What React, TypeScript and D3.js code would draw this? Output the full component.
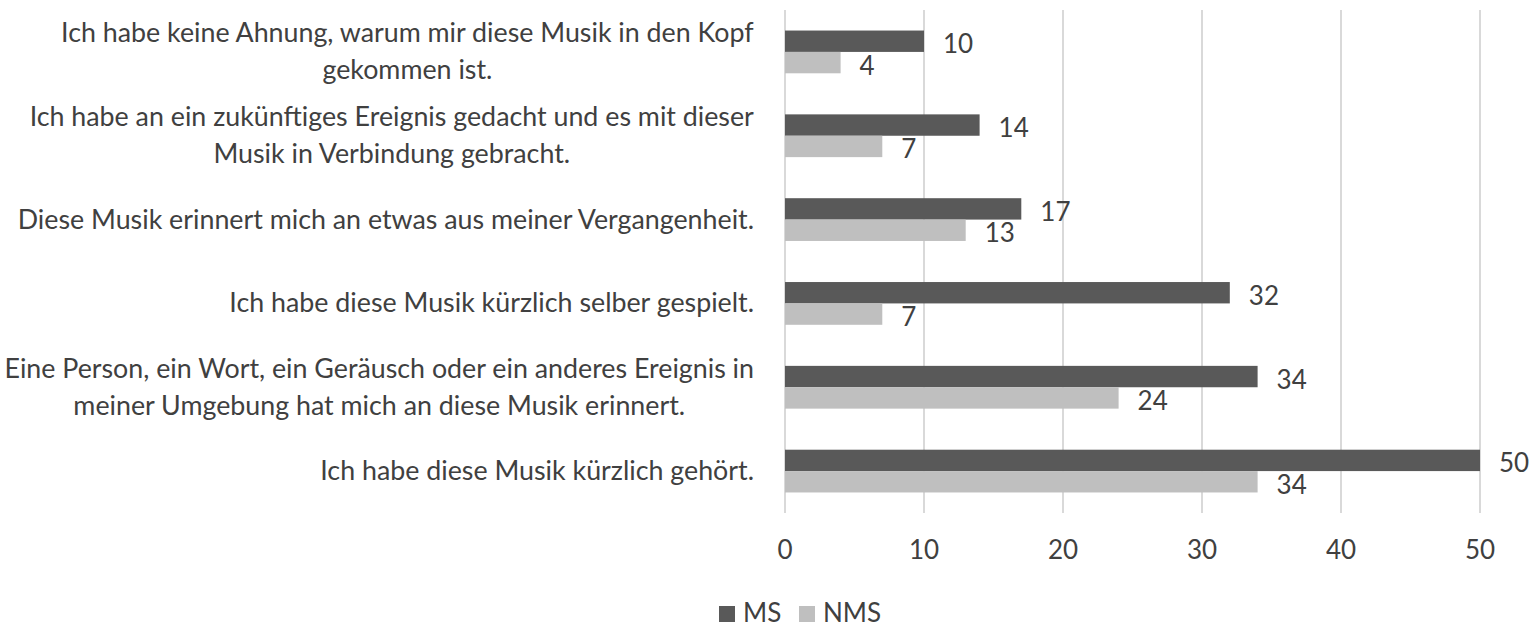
import React from "react";
import * as d3 from "d3";

const categories: string[][] = [
  ["Ich habe keine Ahnung, warum mir diese Musik in den Kopf", "gekommen ist."],
  ["Ich habe an ein zukünftiges Ereignis gedacht und es mit dieser", "Musik in Verbindung gebracht."],
  ["Diese Musik erinnert mich an etwas aus meiner Vergangenheit."],
  ["Ich habe diese Musik kürzlich selber gespielt."],
  ["Eine Person, ein Wort, ein Geräusch oder ein anderes Ereignis in", "meiner Umgebung hat mich an diese Musik erinnert."],
  ["Ich habe diese Musik kürzlich gehört."],
];
const seriesNames = ["MS", "NMS"];
const msValues = [10, 14, 17, 32, 34, 50];
const nmsValues = [4, 7, 13, 7, 24, 34];
const xTicks = [0, 10, 20, 30, 40, 50];

const W = 1535;
const H = 639;
const FONT = "Lato, 'Open Sans', sans-serif";
const FS = 26;
const LFS = 26.8;
const TEXT = "#404040";
const colors: Record<string, string> = { MS: "#595959", NMS: "#bfbfbf" };

export default function App() {
  const x = d3.scaleLinear().domain([0, 50]).range([785, 1480]);
  const y = d3
    .scaleBand<number>()
    .domain(d3.range(categories.length))
    .range([10, 513])
    .paddingInner(0.49)
    .paddingOuter(0.245);
  const sub = d3.scaleBand<string>().domain(seriesNames).range([0, y.bandwidth()]);
  const values: Record<string, number[]> = { MS: msValues, NMS: nmsValues };
  const lineH = 37;

  return (
    <svg
      width={W}
      height={H}
      style={{ position: "absolute", left: 0, top: 0, background: "#fff" }}
      fontFamily={FONT}
    >
      {xTicks.map((t) => (
        <g key={t}>
          <line x1={x(t)} x2={x(t)} y1={10} y2={513} stroke="#d9d9d9" strokeWidth={2} />
          <text x={x(t)} y={559} textAnchor="middle" fontSize={FS} fill={TEXT}>
            {t}
          </text>
        </g>
      ))}
      {categories.map((lines, i) => {
        const cy = (y(i) as number) + y.bandwidth() / 2;
        const n = lines.length;
        return (
          <g key={i}>
            {seriesNames.map((s) => {
              const v = values[s][i];
              const by = (y(i) as number) + (sub(s) as number);
              return (
                <g key={s}>
                  <rect
                    x={x(0)}
                    y={by}
                    width={x(v) - x(0)}
                    height={sub.bandwidth()}
                    fill={colors[s]}
                  />
                  <text
                    x={x(v) + 19}
                    y={by + sub.bandwidth() / 2 + 2}
                    dominantBaseline="central"
                    fontSize={FS}
                    fill={TEXT}
                  >
                    {v}
                  </text>
                </g>
              );
            })}
            <text
              x={0}
              y={0}
              fontSize={LFS}
              fill={TEXT}
              textAnchor="middle"
              ref={(el) => {
                if (!el) return;
                const bb = el.getBBox();
                el.setAttribute("transform", `translate(${754 - bb.width / 2},0)`);
              }}
            >
              {lines.map((l, k) => (
                <tspan
                  key={k}
                  x={0}
                  y={cy + (k - (n - 1) / 2) * lineH - 1}
                  dominantBaseline="central"
                >
                  {l}
                </tspan>
              ))}
            </text>
          </g>
        );
      })}
      {seriesNames.map((s, k) => {
        const lx = k === 0 ? 719 : 799;
        return (
          <g key={s}>
            <rect x={lx} y={606} width={16} height={16} fill={colors[s]} />
            <text x={lx + 24} y={622} fontSize={FS} fill={TEXT}>
              {s}
            </text>
          </g>
        );
      })}
    </svg>
  );
}
